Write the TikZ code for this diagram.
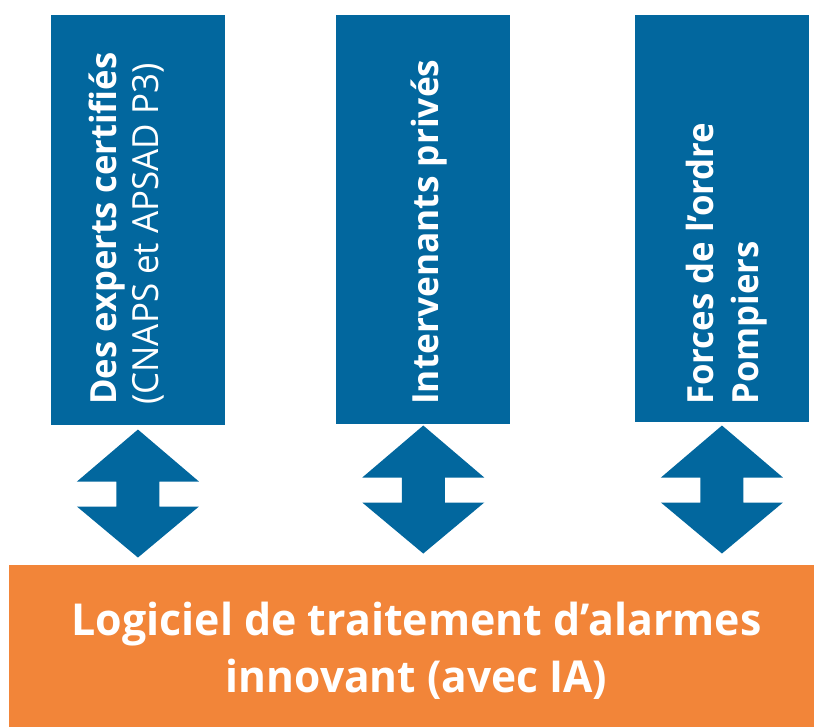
\documentclass[tikz,border=0pt]{standalone}
\usepackage{fontspec}
\setmainfont{Open Sans}
\usetikzlibrary{calc}
\definecolor{boxblue}{RGB}{2,103,158}
\definecolor{boxorange}{RGB}{242,133,57}
\newcommand{\narrowtext}[2]{\scalebox{#1}[1]{#2}}
\begin{document}
\begin{tikzpicture}[x=0.75pt,y=-0.75pt,
  bluebox/.style={fill=boxblue, draw=none, inner sep=0pt, anchor=north west, minimum width=130pt},
  orangebox/.style={fill=boxorange, draw=none, inner sep=0pt, anchor=north west, minimum width=603.75pt, minimum height=121.5pt},
  vbold/.style={rotate=90, anchor=base west, inner sep=0pt, text=white, font=\fontsize{27}{32}\selectfont\bfseries},
  vlight/.style={rotate=90, anchor=base west, inner sep=0pt, text=white, font=\fontsize{27}{32}\selectfont},
  otext/.style={anchor=base, inner sep=0pt, text=white, font=\fontsize{33}{40}\selectfont\bfseries},
  dbl/.pic={\fill[boxblue] (0,0) -- (61,52) -- (21.5,52) -- (21.5,77) -- (61,77) -- (0,128)
     -- (-61,77) -- (-21.5,77) -- (-21.5,52) -- (-61,52) -- cycle;}
]
\useasboundingbox (0,0) rectangle (814,727);
% top boxes
\node[bluebox, minimum height=307.5pt] (b1) at (51,15) {};
\node[bluebox, minimum width=130.5pt, minimum height=306.75pt] (b2) at (336,15) {};
\node[bluebox, minimum height=305.25pt] (b3) at (635,15) {};
% labels
\node[vbold]  (t1a) at (116,405) {\narrowtext{0.96}{Des experts certifiés}};
\node[vlight] (t1b) at (158,405) {\narrowtext{0.97}{(CNAPS et APSAD P3)}};
\node[vbold]  (t2)  at (438,405) {\narrowtext{0.98}{Intervenants privés}};
\node[vbold]  (t3a) at (713,405) {\narrowtext{0.965}{Forces de l’ordre}};
\node[vbold]  (t3b) at (758,405) {\narrowtext{0.965}{Pompiers}};
% bottom box
\node[orangebox] (sw) at (9,565) {};
\node[otext] (l1) at (416.5,635) {\narrowtext{0.975}{Logiciel de traitement d’alarmes}};
\node[otext] (l2) at (416.5,692) {\narrowtext{0.965}{innovant (avec IA)}};
% double arrows
\pic at ($(b1.south)+(0,4)$) {dbl};
\pic at ($(b2.south)+(0,1)$) {dbl};
\pic at ($(b3.south)+(0,3)$) {dbl};
\end{tikzpicture}
\end{document}
